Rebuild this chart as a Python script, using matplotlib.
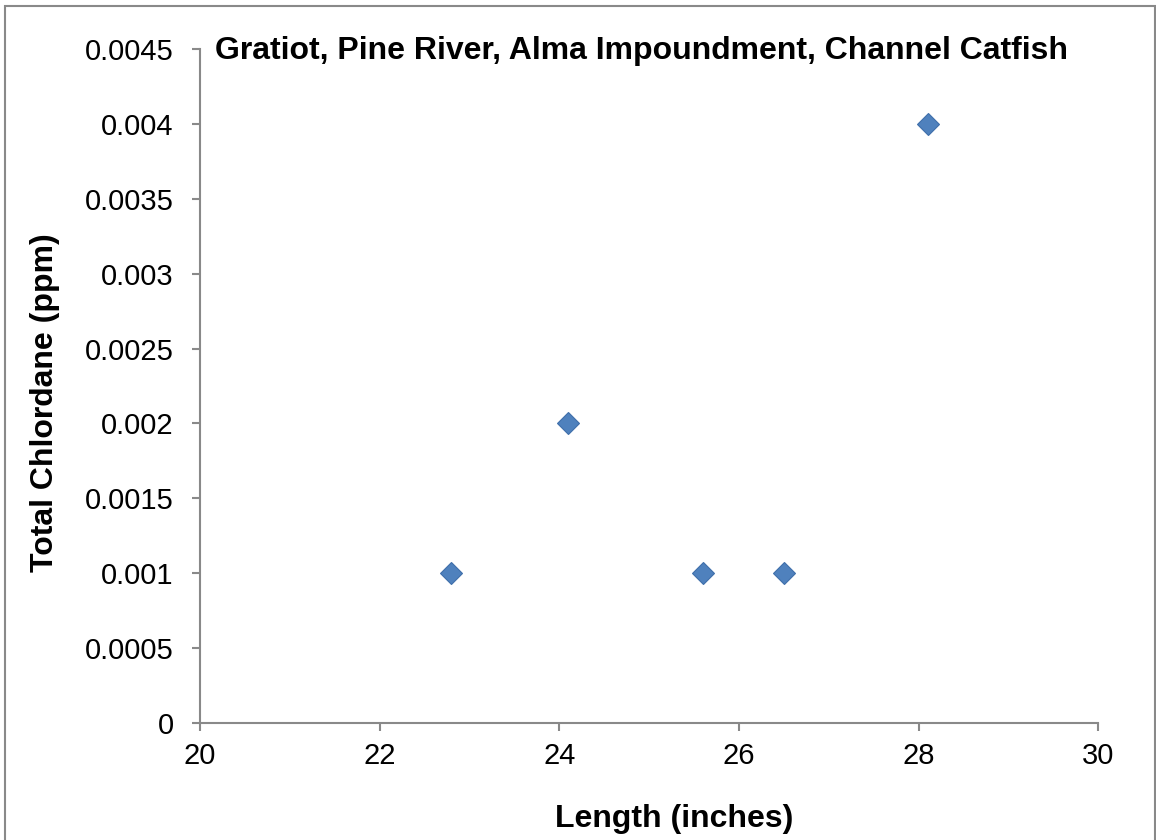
import matplotlib.pyplot as plt
from matplotlib.patches import Rectangle

# ── data ─────────────────────────────────────────────────────────────────────
length_in = [22.8, 24.1, 25.6, 26.5, 28.1]
chlordane_ppm = [0.001, 0.002, 0.001, 0.001, 0.004]

x_ticks = [20, 22, 24, 26, 28, 30]
y_ticks = [0, 0.0005, 0.001, 0.0015, 0.002, 0.0025, 0.003, 0.0035, 0.004, 0.0045]
y_tick_labels = ["0", "0.0005", "0.001", "0.0015", "0.002", "0.0025",
                 "0.003", "0.0035", "0.004", "0.0045"]

plt.rcParams["font.family"] = ["Liberation Sans", "DejaVu Sans"]
GRAY = "#898989"

fig = plt.figure(figsize=(11.56, 8.4), dpi=100)
ax = fig.add_axes([0.173, 0.1393, 0.777, 0.8024])

ax.plot(length_in, chlordane_ppm, linestyle="none", marker="D", markersize=11,
        color="#4F81BD", markeredgecolor="#3F6FAA", markeredgewidth=0.8, clip_on=False)

ax.set_xlim(20, 30)
ax.set_ylim(0, 0.0045)
ax.set_xticks(x_ticks)
ax.set_yticks(y_ticks)
ax.set_yticklabels(y_tick_labels)

for side in ["top", "right"]:
    ax.spines[side].set_visible(False)
for side in ["left", "bottom"]:
    ax.spines[side].set_color(GRAY)
    ax.spines[side].set_linewidth(1.5)
ax.tick_params(direction="out", length=6, width=1.5, color=GRAY, labelsize=21)
ax.tick_params(axis="y", pad=13)
ax.tick_params(axis="x", pad=8)

ax.set_xlabel("Length (inches)", fontsize=23, fontweight="bold", labelpad=24, x=0.528)
ax.set_ylabel("Total Chlordane (ppm)", fontsize=23, fontweight="bold", labelpad=18, y=0.476)
ax.text(0.491, 0.997, "Gratiot, Pine River, Alma Impoundment, Channel Catfish",
        transform=ax.transAxes, ha="center", va="center",
        fontsize=23, fontweight="bold")

# outer chart border
fig.patches.append(Rectangle((0.004, -0.01), 0.995, 1.003, transform=fig.transFigure,
                             fill=False, edgecolor=GRAY, linewidth=1.5))

fig.savefig("out.png", dpi=100)
